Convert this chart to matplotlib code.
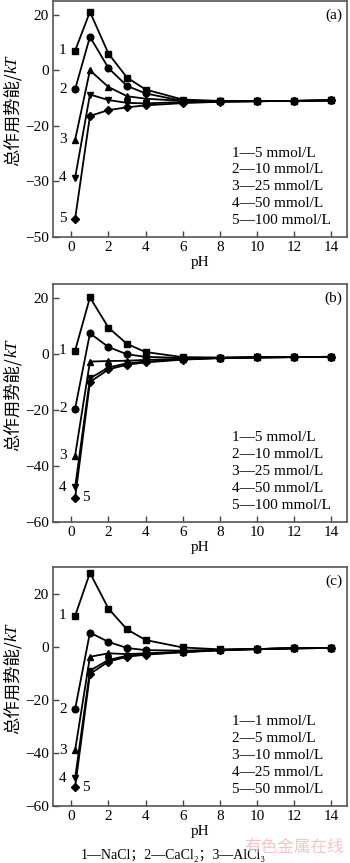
import matplotlib
matplotlib.use("Agg")
import matplotlib.pyplot as plt

plt.rcParams['font.family'] = ['Liberation Serif', 'DejaVu Serif', 'Noto Sans CJK SC']

ph = [0.2, 1, 2, 3, 4, 6, 8, 10, 12, 14]

# Panel (a) NaCl
a1 = [7.1, 21.1, 6.0, -2.6, -6.9, -10.5, -11.0, -11.1, -11.0, -10.8]
a2 = [-6.8, 12.1, 0.8, -5.6, -8.3, -11.0, -11.2, -11.1, -11.0, -10.8]
a3 = [-25.0, 0.0, -6.0, -9.3, -10.2, -11.0, -11.2, -11.1, -11.0, -10.8]
a4 = [-38.7, -8.7, -10.7, -11.7, -11.9, -11.4, -11.2, -11.1, -11.0, -10.8]
a5 = [-53.5, -16.4, -14.3, -13.3, -12.6, -11.8, -11.3, -11.1, -11.0, -10.8]

# Panel (b) CaCl2
b1 = [1.2, 20.2, 9.4, 3.6, 0.7, -1.1, -1.3, -1.2, -1.1, -1.0]
b2 = [-19.5, 7.4, 2.5, -0.1, -1.0, -1.4, -1.3, -1.2, -1.1, -1.0]
b3 = [-36.3, -2.7, -2.5, -2.4, -2.1, -1.7, -1.4, -1.2, -1.1, -1.0]
b4 = [-47.6, -8.7, -4.8, -3.3, -2.7, -1.9, -1.4, -1.2, -1.1, -1.0]
b5 = [-51.4, -10.0, -5.5, -3.8, -3.0, -2.0, -1.5, -1.2, -1.1, -1.0]

# Panel (c) AlCl3
c1 = [11.6, 27.8, 14.3, 6.5, 2.5, -0.3, -1.0, -0.9, -0.6, -0.5]
c2 = [-23.5, 5.3, 1.8, -0.5, -1.3, -1.5, -1.2, -0.9, -0.6, -0.5]
c3 = [-39.0, -3.8, -2.5, -2.8, -2.5, -1.9, -1.3, -0.9, -0.6, -0.5]
c4 = [-49.5, -9.0, -5.0, -3.4, -2.8, -2.0, -1.3, -0.9, -0.6, -0.5]
c5 = [-52.9, -10.3, -5.6, -3.8, -3.0, -2.1, -1.4, -0.9, -0.6, -0.5]

markers = ['s', 'o', '^', 'v', 'D']

panels = [
    dict(series=[a1, a2, a3, a4, a5], tag='(a)', ylim=(-60, 25),
         yticks=[20, 0, -20, -40, -60], yticklabels=['20', '0', '\u221220', '\u221230', '\u221250'],
         legend=['1\u20145 mmol/L', '2\u201410 mmol/L', '3\u201425 mmol/L', '4\u201450 mmol/L', '5\u2014100 mmol/L'],
         rect=[0.151, 0.7254, 0.840, 0.2735], five_right=False),
    dict(series=[b1, b2, b3, b4, b5], tag='(b)', ylim=(-60, 25),
         yticks=[20, 0, -20, -40, -60], yticklabels=['20', '0', '\u221220', '\u221240', '\u221260'],
         legend=['1\u20145 mmol/L', '2\u201410 mmol/L', '3\u201425 mmol/L', '4\u201450 mmol/L', '5\u2014100 mmol/L'],
         rect=[0.151, 0.3951, 0.840, 0.2758], five_right=True),
    dict(series=[c1, c2, c3, c4, c5], tag='(c)', ylim=(-60, 30),
         yticks=[20, 0, -20, -40, -60], yticklabels=['20', '0', '\u221220', '\u221240', '\u221260'],
         legend=['1\u20141 mmol/L', '2\u20145 mmol/L', '3\u201410 mmol/L', '4\u201425 mmol/L', '5\u201450 mmol/L'],
         rect=[0.151, 0.0660, 0.840, 0.2770], five_right=True),
]

fig = plt.figure(figsize=(3.5, 8.63), dpi=100)

for p in panels:
    ax = fig.add_axes(p['rect'])
    for i, (s, m) in enumerate(zip(p['series'], markers)):
        ms = 4.8
        if m == 's':
            ms = 4.2
        if m == 'D':
            ms = 3.8
        ax.plot(ph, s, color='black', lw=1.3, marker=m, ms=ms, mfc='black', mec='black', zorder=3 + i)
        if i == 4 and p['five_right']:
            ax.text(0.55, s[0], '5', fontsize=11, ha='left', va='center')
        else:
            ax.text(-0.25, s[0], str(i + 1), fontsize=11, ha='right', va='center')
    ax.set_xlim(-1.0, 14.85)
    ax.set_ylim(*p['ylim'])
    ax.set_xticks([0, 2, 4, 6, 8, 10, 12, 14])
    ax.set_yticks(p['yticks'])
    ax.set_yticklabels(p['yticklabels'])
    ax.tick_params(direction='in', length=4, width=1.0, labelsize=11, pad=3,
                   top=False, right=False, color='#444444')
    for sp in ax.spines.values():
        sp.set_color('#555555')
        sp.set_linewidth(1.2)
    ax.set_xlabel('pH', fontsize=11, labelpad=1)
    # y label: Chinese part + italic kT
    t1 = ax.text(-0.137, 0.30, '总作用势能/', transform=ax.transAxes, rotation=90,
                 ha='center', va='bottom', fontsize=12.5, family=['Noto Sans CJK SC'])
    ax.annotate('kT', xy=(0.5, 1.0), xycoords=t1, rotation=90, ha='center', va='bottom',
                fontsize=12.5, style='italic', family=['Liberation Serif'])
    ax.text(0.985, 0.97, p['tag'], transform=ax.transAxes, ha='right', va='top', fontsize=11)
    for k, t in enumerate(p['legend']):
        ax.text(0.61, 0.355 - k * 0.071, t, transform=ax.transAxes, ha='left', va='center', fontsize=11)

fig.text(0.495, 0.001, '1\u2014NaCl\uff1b2\u2014CaCl\u2082\uff1b3\u2014AlCl\u2083', ha='center', va='bottom', fontsize=10)
fig.text(0.84, 0.018, '有色金属在线', ha='center', va='center', fontsize=12,
         color='#f2b8b8', family=['Noto Sans CJK SC'], alpha=0.8)

fig.savefig('out.png', dpi=100)
